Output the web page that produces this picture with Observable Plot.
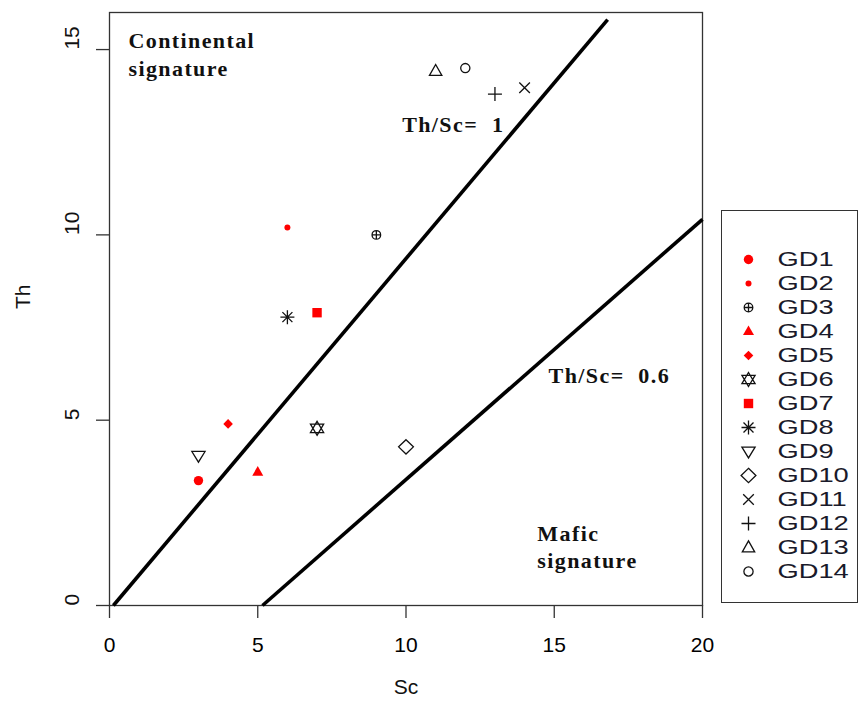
<!DOCTYPE html>
<html>
<head>
<meta charset="utf-8">
<script src="https://cdn.jsdelivr.net/npm/d3@7"></script>
<script src="https://cdn.jsdelivr.net/npm/@observablehq/plot@0.6"></script>
<style>
  html, body { margin: 0; padding: 0; background: #fff; }
  #wrap { position: relative; width: 859px; height: 706px; overflow: hidden; background: #fff; }
  #legend { position: absolute; left: 721px; top: 210px; width: 137px; height: 393px;
            border: 1.3px solid #333; box-sizing: border-box; background: #fff; }
  #legendSymbols { position: absolute; left: 0; top: 0; }
  #legendLabels { position: absolute; left: 15px; top: 0; }
</style>
</head>
<body>
<div id="wrap"><div id="legend"><div id="legendSymbols"></div><div id="legendLabels"></div></div></div>
<script>
// ---- data ----
const samples = ["GD1","GD2","GD3","GD4","GD5","GD6","GD7","GD8","GD9","GD10","GD11","GD12","GD13","GD14"];
const sc = [3, 6, 9, 5, 4, 7, 7, 6, 3, 10, 14, 13, 11, 12];
const th = [3.37, 10.2, 10, 3.6, 4.9, 4.78, 7.9, 7.78, 4.04, 4.28, 13.97, 13.8, 14.42, 14.5];
const redSamples = ["GD1","GD2","GD4","GD5","GD7"];

const xTicks = [0, 5, 10, 15, 20];
const yTicks = [0, 5, 10, 15];

// reference lines (Sc, Th endpoints)
const line1Sc = [0.13, 16.8];
const line1Th = [0, 15.81];
const line2Sc = [5.16, 20];
const line2Th = [0, 10.42];

// annotations
const noteText = ["Continental", "signature", "Th/Sc=\u00a0\u00a01", "Th/Sc=\u00a0\u00a00.6", "Mafic", "signature"];
const noteSc = [0.64, 0.64, 9.87, 14.81, 14.43, 14.43];
const noteTh = [15.22, 14.49, 12.96, 6.19, 1.94, 1.19];

// ---- R-like plotting symbols ----
function tri(ctx, pts) { ctx.moveTo(pts[0][0], pts[0][1]); for (let i = 1; i < pts.length; i++) ctx.lineTo(pts[i][0], pts[i][1]); ctx.closePath(); }
function mk(fn) { return { draw(ctx, size) { const k = Math.sqrt(size / Math.PI) / 5; fn(ctx, k); } }; }
const SYMBOLS = {
  GD1: mk((c, k) => { const r = 4.7 * k; c.moveTo(r, 0); c.arc(0, 0, r, 0, 2 * Math.PI); }),
  GD2: mk((c, k) => { const r = 3 * k; c.moveTo(r, 0); c.arc(0, 0, r, 0, 2 * Math.PI); }),
  GD3: mk((c, k) => { const r = 4.3 * k; c.moveTo(r, 0); c.arc(0, 0, r, 0, 2 * Math.PI); c.moveTo(-r, 0); c.lineTo(r, 0); c.moveTo(0, -r); c.lineTo(0, r); }),
  GD4: mk((c, k) => tri(c, [[0, -6 * k], [5.5 * k, 3.6 * k], [-5.5 * k, 3.6 * k]])),
  GD5: mk((c, k) => tri(c, [[0, -4.8 * k], [4.8 * k, 0], [0, 4.8 * k], [-4.8 * k, 0]])),
  GD6: mk((c, k) => { tri(c, [[0, -7 * k], [6.6 * k, 4.2 * k], [-6.6 * k, 4.2 * k]]); tri(c, [[0, 7 * k], [6.6 * k, -4.2 * k], [-6.6 * k, -4.2 * k]]); }),
  GD7: mk((c, k) => { const h = 4.7 * k; c.rect(-h, -h, 2 * h, 2 * h); }),
  GD8: mk((c, k) => { const a = 7 * k, b = 5 * k; c.moveTo(-a, 0); c.lineTo(a, 0); c.moveTo(0, -a); c.lineTo(0, a); c.moveTo(-b, -b); c.lineTo(b, b); c.moveTo(-b, b); c.lineTo(b, -b); }),
  GD9: mk((c, k) => tri(c, [[-6.6 * k, -4.3 * k], [6.6 * k, -4.3 * k], [0, 6.4 * k]])),
  GD10: mk((c, k) => tri(c, [[0, -7.2 * k], [7.4 * k, 0], [0, 7.2 * k], [-7.4 * k, 0]])),
  GD11: mk((c, k) => { const a = 5.3 * k; c.moveTo(-a, -a); c.lineTo(a, a); c.moveTo(-a, a); c.lineTo(a, -a); }),
  GD12: mk((c, k) => { const a = 7 * k; c.moveTo(-a, 0); c.lineTo(a, 0); c.moveTo(0, -a); c.lineTo(0, a); }),
  GD13: mk((c, k) => tri(c, [[0, -6.6 * k], [6.2 * k, 4.4 * k], [-6.2 * k, 4.4 * k]])),
  GD14: mk((c, k) => { const r = 4.6 * k; c.moveTo(r, 0); c.arc(0, 0, r, 0, 2 * Math.PI); })
};
const symbolScale = { domain: samples, range: samples.map(s => SYMBOLS[s]) };
const isRed = i => redSamples.includes(samples[i]);
const idx = d3.range(samples.length);
const noteIdx = d3.range(noteText.length);

const sansFont = "'Liberation Sans', Arial, Helvetica, sans-serif";
const serifFont = "'Liberation Serif', 'Times New Roman', serif";

const chart = Plot.plot({
  width: 859,
  height: 706,
  marginLeft: 109,
  marginRight: 157,
  marginTop: 12,
  marginBottom: 101,
  x: { domain: [0, 20], label: null },
  y: { domain: [0, 16], label: null },
  symbol: symbolScale,
  style: { fontFamily: sansFont, fontSize: "21px", color: "#000", background: "#fff" },
  marks: [
    Plot.frame({ stroke: "#333", strokeWidth: 1.3 }),
    Plot.axisX(xTicks, { tickSize: 13, tickPadding: 19, fontSize: 21, stroke: "#333", strokeWidth: 1.3, label: null, tickFormat: d => String(d) }),
    Plot.axisY(yTicks, { tickSize: 13, stroke: "#333", strokeWidth: 1.3, label: null, tickFormat: () => "" }),
    Plot.text(yTicks, { y: d => d, frameAnchor: "left", dx: -37, rotate: -90, text: d => String(d), fontSize: 21, fill: "#111" }),
    Plot.text(["Th"], { frameAnchor: "left", dx: -86, rotate: -90, text: d => d, fontSize: 21, fill: "#111" }),
    Plot.text(["Sc"], { frameAnchor: "bottom", dy: 88, text: d => d, fontSize: 21, fill: "#111" }),
    Plot.line([0, 1], { x: i => line1Sc[i], y: i => line1Th[i], stroke: "#000", strokeWidth: 3.6, strokeLinecap: "butt" }),
    Plot.line([0, 1], { x: i => line2Sc[i], y: i => line2Th[i], stroke: "#000", strokeWidth: 3.6, strokeLinecap: "butt" }),
    Plot.text(noteIdx, { x: i => noteSc[i], y: i => noteTh[i], text: i => noteText[i], textAnchor: "start",
      fontFamily: serifFont, fontWeight: "bold", fontSize: 22, fill: "#111" }),
    Plot.dot(idx, { filter: i => !isRed(i), x: i => sc[i], y: i => th[i], symbol: i => samples[i], r: 5,
      fill: "none", stroke: "#111", strokeWidth: 1.3 }),
    Plot.dot(idx, { filter: i => isRed(i), x: i => sc[i], y: i => th[i], symbol: i => samples[i], r: 5,
      fill: "#ff0000", stroke: "none" })
  ]
});
document.getElementById("wrap").insertBefore(chart, document.getElementById("legend"));
chart.querySelectorAll('g[font-family*="Serif"] text').forEach(t => t.style.letterSpacing = "1.4px");

// ---- legend: symbols and labels share one point scale of sample names ----
const legendY = { type: "point", domain: samples, range: [31, 376], axis: null };
const legendSymbols = Plot.plot({
  width: 50,
  height: 390,
  margin: 0,
  y: legendY,
  symbol: symbolScale,
  style: { background: "transparent" },
  marks: [
    Plot.dot(samples, { filter: s => !redSamples.includes(s), y: s => s, symbol: s => s, frameAnchor: "left", dx: 26, r: 5,
      fill: "none", stroke: "#111", strokeWidth: 1.3 }),
    Plot.dot(samples, { filter: s => redSamples.includes(s), y: s => s, symbol: s => s, frameAnchor: "left", dx: 26, r: 5,
      fill: "#ff0000", stroke: "none" })
  ]
});
document.getElementById("legendSymbols").appendChild(legendSymbols);

const legendLabels = Plot.plot({
  width: 118,
  height: 390,
  marginTop: 0,
  marginBottom: 0,
  marginLeft: 40,
  marginRight: 0,
  y: legendY,
  style: { fontFamily: sansFont, fontSize: "21px", color: "#000", background: "transparent" },
  marks: [
    Plot.text(samples, { y: s => s, text: s => s, frameAnchor: "left", textAnchor: "start", fontSize: 21, fill: "#1a1a2a" })
  ]
});
document.getElementById("legendLabels").appendChild(legendLabels);
legendLabels.querySelectorAll("text").forEach(t => {
  const L = t.getComputedTextLength();
  t.setAttribute("textLength", (L * 1.3).toFixed(1));
  t.setAttribute("lengthAdjust", "spacingAndGlyphs");
});
</script>
</body>
</html>
